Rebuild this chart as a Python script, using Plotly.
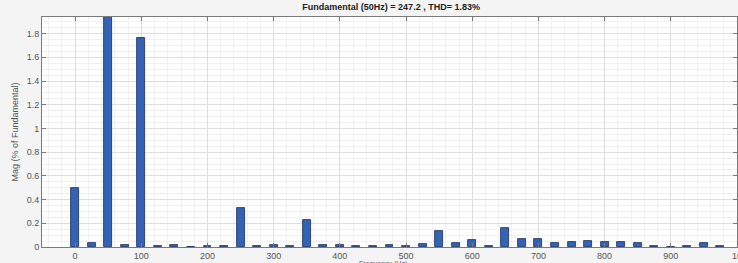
import plotly.graph_objects as go

freqs = list(range(0, 1000, 25))
mags = [0.50, 0.035, 100.0, 0.015, 1.76, 0.005, 0.015, 0.003, 0.005, 0.007,
        0.33, 0.01, 0.015, 0.012, 0.23, 0.02, 0.02, 0.008, 0.01, 0.015,
        0.008, 0.025, 0.135, 0.035, 0.055, 0.005, 0.16, 0.065, 0.07, 0.03,
        0.045, 0.05, 0.04, 0.045, 0.03, 0.01, 0.003, 0.005, 0.035, 0.01]
title_text = "Fundamental (50Hz) = 247.2 , THD= 1.83%"
x_title = "Frequency (Hz)"
y_title = "Mag (% of Fundamental)"
x_ticks = list(range(0, 1001, 100))
y_ticks = [0, 0.2, 0.4, 0.6, 0.8, 1, 1.2, 1.4, 1.6, 1.8]

fig = go.Figure(go.Bar(
    x=freqs, y=mags, width=12,
    marker=dict(color="#3263b6", line=dict(color="#1b2b55", width=0.8)),
))

font_tick = dict(family="Liberation Sans, Arial", size=9, color="#555555")
axis_common = dict(
    showgrid=True, gridcolor="#dedede", gridwidth=1,
    showline=True, linecolor="#7a7a7a", linewidth=1, mirror="ticks",
    ticks="inside", ticklen=4, tickcolor="#7a7a7a",
    tickfont=font_tick, zeroline=False, automargin=False,
    ticklabeloverflow="allow",
)

fig.update_layout(
    width=738, height=263,
    margin=dict(l=42, r=1, t=17, b=16),
    paper_bgcolor="#f4f4f4", plot_bgcolor="#ffffff",
    showlegend=False,
    title=dict(text="<b>" + title_text + "</b>", x=0.53, xanchor="center",
               y=0.985, yanchor="top",
               font=dict(family="Liberation Sans, Arial", size=9, color="#222222")),
    bargap=0,
)
fig.update_xaxes(range=[-50, 1000], tickvals=x_ticks,
                 ticktext=[str(v) for v in x_ticks[:-1]] + ["10"],
                 **axis_common,
                 minor=dict(showgrid=True, gridcolor="#f1f1f1", dtick=20))
fig.update_yaxes(range=[0, 1.94], tickvals=y_ticks,
                 ticktext=["0", "0.2", "0.4", "0.6", "0.8", "1", "1.2", "1.4", "1.6", "1.8"],
                 title=dict(text=y_title, standoff=6, font=font_tick),
                 **axis_common,
                 minor=dict(showgrid=True, gridcolor="#f1f1f1", dtick=0.05))
fig.add_annotation(text=x_title, xref="paper", yref="paper", x=0.49, y=0,
                   yanchor="top", yshift=-11, showarrow=False,
                   font=dict(family="Liberation Sans, Arial", size=7, color="#555555"))

fig.write_html("out.html", config={"displayModeBar": False},
               post_script="document.body.style.margin='0';")
